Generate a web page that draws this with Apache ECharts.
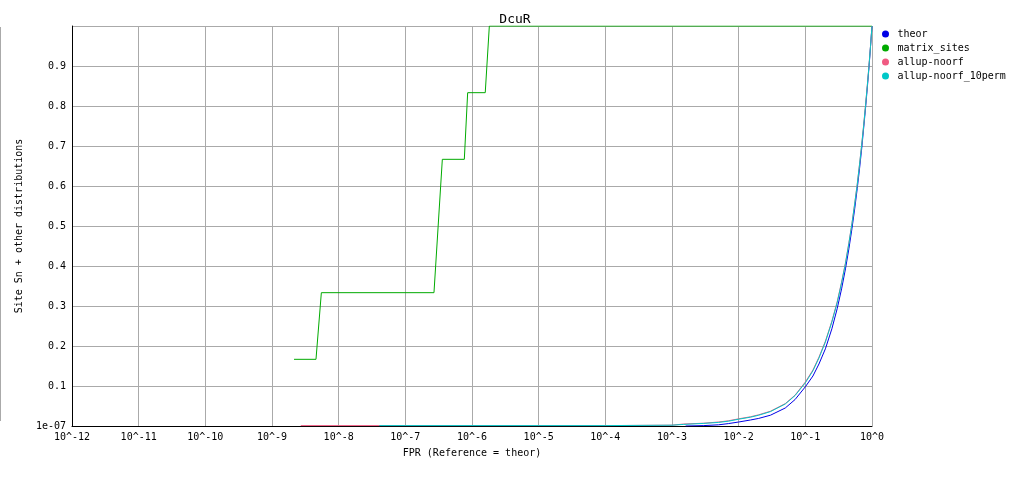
<!DOCTYPE html>
<html>
<head>
<meta charset="utf-8">
<script src="https://cdn.jsdelivr.net/npm/echarts@6/dist/echarts.min.js"></script>
<style>html,body{margin:0;padding:0;background:#fff;}#c{width:1030px;height:478px;}</style>
</head>
<body>
<div id="c"></div>
<script>
const titleText = 'DcuR';
const seriesNames = ['theor', 'matrix_sites', 'allup-noorf', 'allup-noorf_10perm'];
const xTickExponents = [-12, -11, -10, -9, -8, -7, -6, -5, -4, -3, -2, -1, 0];

const theorFpr = [0.0016, 0.003, 0.005, 0.007, 0.01, 0.015, 0.02, 0.03, 0.05, 0.07, 0.1, 0.13, 0.16, 0.2, 0.25, 0.3, 0.35, 0.4, 0.45, 0.5, 0.55, 0.6, 0.65, 0.7, 0.75, 0.8, 0.85, 0.9, 0.95, 1.0];
const theorSn  = [0.0, 0.001, 0.003, 0.006, 0.010, 0.015, 0.019, 0.027, 0.045, 0.066, 0.098, 0.125, 0.155, 0.193, 0.243, 0.293, 0.343, 0.393, 0.443, 0.493, 0.543, 0.593, 0.643, 0.693, 0.745, 0.795, 0.845, 0.895, 0.948, 1.0];

const matrixFpr = [2.14e-9, 4.57e-9, 5.5e-9, 2.69e-7, 3.59e-7, 7.67e-7, 8.61e-7, 1.58e-6, 1.82e-6, 1.0];
const matrixSn  = [0.1667, 0.1667, 0.3333, 0.3333, 0.6667, 0.6667, 0.8333, 0.8333, 1.0, 1.0];

const noorfFpr = [2.7e-9, 1e-8, 1e-7, 1e-6, 1e-5, 1e-4, 0.001, 0.0015, 0.003, 0.005, 0.007, 0.01, 0.015, 0.02, 0.03, 0.05, 0.07, 0.1, 0.13, 0.16, 0.2, 0.25, 0.3, 0.35, 0.4, 0.45, 0.5, 0.55, 0.6, 0.65, 0.7, 0.75, 0.8, 0.85, 0.9, 0.95, 1.0];
const noorfSn  = [0.001, 0.001, 0.001, 0.001, 0.001, 0.001, 0.002, 0.005, 0.007, 0.010, 0.013, 0.018, 0.023, 0.028, 0.037, 0.056, 0.077, 0.110, 0.140, 0.172, 0.212, 0.262, 0.310, 0.360, 0.408, 0.458, 0.506, 0.556, 0.604, 0.654, 0.703, 0.752, 0.802, 0.851, 0.900, 0.950, 1.0];

const permFpr = [4.07e-8, 1e-7, 1e-6, 1e-5, 1e-4, 0.001, 0.0015, 0.003, 0.005, 0.007, 0.01, 0.015, 0.02, 0.03, 0.05, 0.07, 0.1, 0.13, 0.16, 0.2, 0.25, 0.3, 0.35, 0.4, 0.45, 0.5, 0.55, 0.6, 0.65, 0.7, 0.75, 0.8, 0.85, 0.9, 0.95, 1.0];
const permSn  = [0.001, 0.001, 0.001, 0.001, 0.001, 0.002, 0.004, 0.0065, 0.009, 0.012, 0.017, 0.022, 0.027, 0.036, 0.055, 0.076, 0.108, 0.138, 0.170, 0.210, 0.260, 0.308, 0.358, 0.406, 0.456, 0.505, 0.555, 0.603, 0.653, 0.702, 0.751, 0.801, 0.850, 0.899, 0.949, 1.0];

const colors = ['#0000e6', '#00aa00', '#f05a82', '#00c8c8'];
const FONT = 'DejaVu Sans Mono';

function pairs(xs, ys) { return xs.map((x, i) => [x, ys[i]]); }

const chart = echarts.init(document.getElementById('c'), null, {renderer: 'canvas'});
const lineSeries = (name, xs, ys, color, z) => ({
  name: name, type: 'line', data: pairs(xs, ys), showSymbol: false, symbol: 'none',
  lineStyle: {color: color, width: 1}, itemStyle: {color: color}, z: z,
  animation: false, silent: true
});

chart.setOption({
  animation: false,
  color: colors,
  title: {
    text: titleText, left: 'center', top: 8,
    textStyle: {fontFamily: FONT, fontSize: 13, fontWeight: 'normal', color: '#000'}
  },
  legend: {
    orient: 'vertical', left: 877, top: 22, itemGap: 0,
    icon: 'circle', itemWidth: 14, itemHeight: 7,
    selectedMode: false,
    data: seriesNames,
    textStyle: {fontFamily: FONT, fontSize: 10, color: '#000', lineHeight: 14, padding: [0,0,0,0]}
  },
  grid: {left: 72, right: 158, top: 26, bottom: 52, containLabel: false},
  xAxis: {
    type: 'log', logBase: 10, min: 1e-12, max: 1, interval: 1,
    name: 'FPR (Reference = theor)', nameLocation: 'middle', nameGap: 22,
    nameTextStyle: {fontFamily: FONT, fontSize: 10, color: '#000'},
    axisLine: {show: true, onZero: false, lineStyle: {color: '#000', width: 1}},
    axisTick: {show: false},
    axisLabel: {
      fontFamily: FONT, fontSize: 10, color: '#000', margin: 6,
      showMinLabel: true, showMaxLabel: true,
      formatter: v => '10^' + Math.round(Math.log10(v))
    },
    splitLine: {show: true, lineStyle: {color: '#aaaaaa', width: 1}},
    minorTick: {show: false}, minorSplitLine: {show: false}
  },
  yAxis: {
    type: 'value', min: 0, max: 1, interval: 0.1,
    name: 'Site Sn + other distributions', nameLocation: 'middle', nameGap: 48, nameRotate: 90,
    nameTextStyle: {fontFamily: FONT, fontSize: 10, color: '#000'},
    axisLine: {show: true, lineStyle: {color: '#000', width: 1}},
    axisTick: {show: false},
    axisLabel: {
      fontFamily: FONT, fontSize: 10, color: '#000', margin: 6,
      formatter: v => v === 0 ? '1e-07' : (v >= 0.999 ? '' : v.toFixed(1))
    },
    splitLine: {show: true, lineStyle: {color: '#aaaaaa', width: 1}}
  },
  graphic: [{
    type: 'line', shape: {x1: 0.5, y1: 27, x2: 0.5, y2: 421},
    style: {stroke: '#aaaaaa', lineWidth: 1}, silent: true
  }],
  series: [
    lineSeries(seriesNames[0], theorFpr, theorSn, colors[0], 2),
    lineSeries(seriesNames[1], matrixFpr, matrixSn, colors[1], 3),
    lineSeries(seriesNames[2], noorfFpr, noorfSn, colors[2], 4),
    lineSeries(seriesNames[3], permFpr, permSn, colors[3], 5)
  ]
});
</script>
</body>
</html>
